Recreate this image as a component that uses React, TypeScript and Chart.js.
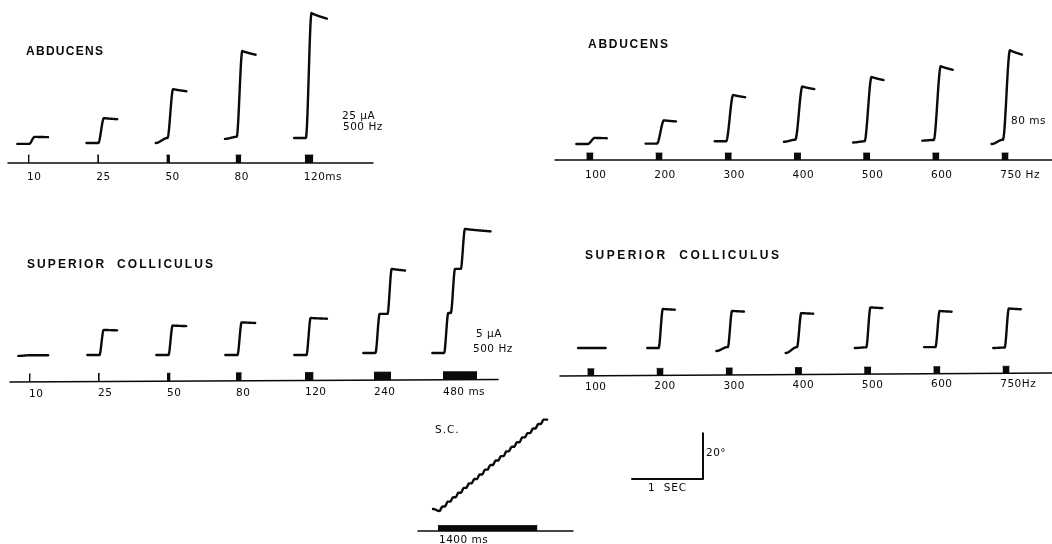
import { useEffect, useRef } from "react";
import { Chart, registerables } from "chart.js";

Chart.register(...registerables);

// ---------------- figure geometry (layout only) ----------------
const FIG_W = 1052;
const FIG_H = 544;
const PX_PER_DEG = 2.285; // from the 20° calibration bar
const PX_PER_MS = 0.071; // from the 1 SEC calibration bar

// ---------------- data ----------------
// Panel A: Abducens, train duration series (25 µA, 500 Hz)
const abdDurLabels = ["10", "25", "50", "80", "120ms"];
const abdDurTrainMs = [10, 25, 50, 80, 120];
const abdDurAmpDeg = [3.1, 10.9, 21.4, 37.6, 54.7];
const abdDurStartDeg = [-0.4, 0, 0, 1.8, 2.2];
const abdDurDriftDeg = [0, 0, 2.2, 0.9, 0];

// Panel B: Abducens, frequency series (80 ms trains)
const abdFreqLabels = ["100", "200", "300", "400", "500", "600", "750 Hz"];
const abdFreqTrainMs = [80, 80, 80, 80, 80, 80, 80];
const abdFreqAmpDeg = [2.7, 10.2, 20.3, 23.3, 28.2, 32.3, 39.2];
const abdFreqStartDeg = [-0.9, -0.7, 0.3, 0.1, -0.2, 0.6, -0.9];
const abdFreqDriftDeg = [0, 0, 0, 0.9, 0.5, 0.3, 1.9];

// Panel C: Superior colliculus, train duration series (5 µA, 500 Hz)
const scDurLabels = ["10", "25", "50", "80", "120", "240", "480 ms"];
const scDurTrainMs = [10, 25, 50, 80, 120, 240, 480];
const scDurStepDeg = [[0], [11], [12.9], [14.3], [16.2], [17.1, 19.7], [17.5, 19.3, 17.5]];
const scDurStepMs = [[20], [20], [20], [20], [20], [20, 190], [15, 110, 250]];
const scDurStartDeg = [-0.4, 0, 0, 0, 0, 0.9, 0.9];
const scDurDriftDeg = [0.3, 0, 0, 0, 0, 0, 0];

// Panel D: Superior colliculus, frequency series (80 ms trains)
const scFreqLabels = ["100", "200", "300", "400", "500", "600", "750Hz"];
const scFreqTrainMs = [80, 80, 80, 80, 80, 80, 80];
const scFreqAmpDeg = [0, 17.1, 15.8, 14.9, 17.5, 15.8, 17.1];
const scFreqStartDeg = [0, 0, -1.3, -2.2, 0, 0.4, 0];
const scFreqDriftDeg = [0, 0, 1.75, 2.6, 0.3, 0, 0.2];

// Panel E: S.C., long 1400 ms train -> staircase
const scLongTrainMs = 1400;
const scLongStepDeg = [2.0, 2.1, 1.9, 2.0, 2.1, 2.0, 1.9, 2.0, 2.1, 2.0, 2.0, 1.9, 2.1, 2.0, 2.0, 2.1, 1.9, 2.0, 2.0, 1.9];
const scLongStepMs = [20, 95, 170, 245, 320, 395, 470, 545, 620, 695, 770, 845, 920, 995, 1070, 1145, 1220, 1295, 1370, 1445];

// Calibration
const calSec = 1;
const calDeg = 20;

// ---------------- layout ----------------
type Panel = {
  firstOnset: number;
  spacing: number;
  axisX0: number;
  axisX1: number;
  axisY0: number;
  axisY1: number;
  baseY: number;
  stimH: number;
  stimPad: number;
  labelY: number;
  labelDx: number;
  riseMs: number;
  preMs: number;
  postMs: number;
  sag: number;
};

const panelA: Panel = { firstOnset: 28, spacing: 69.2, axisX0: 8, axisX1: 373, axisY0: 163, axisY1: 163, baseY: 143, stimH: 8, stimPad: 0, labelY: 177, labelDx: -1, riseMs: 80, preMs: 150, postMs: 190, sag: 0.045 };
const panelB: Panel = { firstOnset: 587, spacing: 69.2, axisX0: 555, axisX1: 1052, axisY0: 160, axisY1: 160, baseY: 142, stimH: 7, stimPad: 1.3, labelY: 175, labelDx: -2, riseMs: 100, preMs: 150, postMs: 170, sag: 0.05 };
const panelC: Panel = { firstOnset: 29, spacing: 69, axisX0: 10, axisX1: 498, axisY0: 382, axisY1: 379.5, baseY: 355, stimH: 8, stimPad: 0, labelY: 394, labelDx: 0, riseMs: 60, preMs: 150, postMs: 190, sag: 0.02 };
const panelD: Panel = { firstOnset: 588, spacing: 69.2, axisX0: 560, axisX1: 1052, axisY0: 376, axisY1: 373, baseY: 348, stimH: 7, stimPad: 1.3, labelY: 387, labelDx: -3, riseMs: 60, preMs: 140, postMs: 170, sag: 0.02 };
const panelE: Panel = { firstOnset: 438, spacing: 0, axisX0: 418, axisX1: 573, axisY0: 531, axisY1: 531, baseY: 511, stimH: 5.5, stimPad: 0, labelY: 540, labelDx: 1, riseMs: 45, preMs: 70, postMs: 50, sag: 0 };

const INK = "#0a0a0a";

function axisYAt(p: Panel, x: number) {
  return p.axisY0 + ((p.axisY1 - p.axisY0) * (x - p.axisX0)) / (p.axisX1 - p.axisX0);
}

function smooth(u: number) {
  if (u <= 0) return 0;
  if (u >= 1) return 1;
  return u * u * (3 - 2 * u);
}

function buildTrace(p: Panel, onsetX: number, trainMs: number, stepsDeg: number[], stepsMs: number[], startDeg: number, driftDeg: number) {
  const pts: { x: number; y: number }[] = [];
  const t0 = -p.preMs;
  const firstStep = stepsMs[0];
  const lastRiseEnd = stepsMs[stepsMs.length - 1] + p.riseMs;
  const tEnd = Math.max(trainMs, lastRiseEnd) + p.postMs;
  const total = stepsDeg.reduce((a, b) => a + b, 0);
  for (let t = t0; t <= tEnd + 0.001; t += 4) {
    let deg = startDeg + driftDeg * smooth((t - t0) / (firstStep - t0));
    for (let k = 0; k < stepsDeg.length; k++) deg += stepsDeg[k] * smooth((t - stepsMs[k]) / p.riseMs);
    if (t > lastRiseEnd) deg -= p.sag * total * Math.pow((t - lastRiseEnd) / (tEnd - lastRiseEnd), 0.8);
    pts.push({ x: onsetX + t * PX_PER_MS, y: p.baseY - deg * PX_PER_DEG });
  }
  return pts;
}

const lineDs = (data: { x: number; y: number }[], width: number, tension = 0) => ({
  type: "line" as const,
  data,
  borderColor: INK,
  borderWidth: width,
  pointRadius: 0,
  tension,
  fill: false,
  borderCapStyle: "round" as const,
  borderJoinStyle: "round" as const,
  clip: false as const,
});

function stimDs(p: Panel, onsetX: number, trainMs: number) {
  const w = Math.max(trainMs * PX_PER_MS, 1.6) + p.stimPad;
  const x0 = onsetX - p.stimPad / 2;
  const base = axisYAt(p, x0 + w / 2);
  return {
    type: "line" as const,
    data: [
      { x: x0, y: base - p.stimH },
      { x: x0 + w, y: base - p.stimH },
    ],
    borderColor: INK,
    borderWidth: 0.8,
    backgroundColor: INK,
    pointRadius: 0,
    tension: 0,
    fill: { value: base },
    clip: false as const,
  };
}

function axisDs(p: Panel) {
  return lineDs(
    [
      { x: p.axisX0, y: p.axisY0 },
      { x: p.axisX1, y: p.axisY1 },
    ],
    1.5
  );
}

type TextItem = { text: string; x: number; y: number; font: string; width?: number; ls?: number; align?: CanvasTextAlign; baseline?: CanvasTextBaseline };

const NUM_FONT = '10.5px "DejaVu Sans"';
const TITLE_FONT = 'bold 12px "Liberation Sans"';
const NUM_LS = 0.5;

function buildAll() {
  const datasets: any[] = [];
  const texts: TextItem[] = [];

  const addPanel = (
    p: Panel,
    labels: string[],
    trains: number[],
    steps: number[][],
    stepMs: number[][],
    starts: number[],
    drifts: number[]
  ) => {
    datasets.push(axisDs(p));
    labels.forEach((lab, i) => {
      const onsetX = p.firstOnset + i * p.spacing;
      datasets.push(stimDs(p, onsetX, trains[i]));
      datasets.push(lineDs(buildTrace(p, onsetX, trains[i], steps[i], stepMs[i], starts[i], drifts[i]), 2.4, 0.02));
      const lx = onsetX + p.labelDx;
      texts.push({ text: lab, x: lx, y: p.labelY + (axisYAt(p, lx) - p.axisY0), font: NUM_FONT, ls: NUM_LS });
    });
  };

  addPanel(panelA, abdDurLabels, abdDurTrainMs, abdDurAmpDeg.map((a) => [a]), abdDurAmpDeg.map(() => [15]), abdDurStartDeg, abdDurDriftDeg);
  addPanel(panelB, abdFreqLabels, abdFreqTrainMs, abdFreqAmpDeg.map((a) => [a]), abdFreqAmpDeg.map(() => [10]), abdFreqStartDeg, abdFreqDriftDeg);
  addPanel(panelC, scDurLabels, scDurTrainMs, scDurStepDeg, scDurStepMs, scDurStartDeg, scDurDriftDeg);
  addPanel(panelD, scFreqLabels, scFreqTrainMs, scFreqAmpDeg.map((a) => [a]), scFreqAmpDeg.map(() => [20]), scFreqStartDeg, scFreqDriftDeg);

  // Panel E: long train
  datasets.push(axisDs(panelE));
  datasets.push(stimDs(panelE, panelE.firstOnset, scLongTrainMs));
  datasets.push(lineDs(buildTrace(panelE, panelE.firstOnset, scLongTrainMs, scLongStepDeg, scLongStepMs, 0.9, -0.9), 2.4, 0.02));
  texts.push({ text: "1400 ms", x: panelE.firstOnset + panelE.labelDx, y: 535, font: NUM_FONT, ls: NUM_LS, baseline: "top" });

  // calibration bar
  const cx = 703;
  const cy = 479;
  datasets.push(
    lineDs(
      [
        { x: cx - calSec * 1000 * PX_PER_MS, y: cy },
        { x: cx, y: cy },
        { x: cx, y: cy - calDeg * PX_PER_DEG },
      ],
      2
    )
  );

  // titles & annotations
  texts.push({ text: "ABDUCENS", x: 26, y: 52, font: TITLE_FONT, width: 77 });
  texts.push({ text: "ABDUCENS", x: 588, y: 45, font: TITLE_FONT, width: 80 });
  texts.push({ text: "SUPERIOR  COLLICULUS", x: 27, y: 265, font: TITLE_FONT, width: 186 });
  texts.push({ text: "SUPERIOR  COLLICULUS", x: 585, y: 256, font: TITLE_FONT, width: 194 });
  texts.push({ text: "25 µA", x: 342, y: 116, font: NUM_FONT, ls: NUM_LS });
  texts.push({ text: "500 Hz", x: 343, y: 127, font: NUM_FONT, ls: NUM_LS });
  texts.push({ text: "80 ms", x: 1011, y: 121, font: NUM_FONT, ls: NUM_LS });
  texts.push({ text: "5 µA", x: 476, y: 334, font: NUM_FONT, ls: NUM_LS });
  texts.push({ text: "500 Hz", x: 473, y: 349, font: NUM_FONT, ls: NUM_LS });
  texts.push({ text: "S.C.", x: 435, y: 430, font: NUM_FONT, ls: 1 });
  texts.push({ text: "20°", x: 706, y: 453, font: NUM_FONT, ls: NUM_LS });
  texts.push({ text: "1  SEC", x: 648, y: 488, font: NUM_FONT, ls: 0.8 });

  return { datasets, texts };
}

export default function App() {
  const ref = useRef<HTMLCanvasElement>(null);
  useEffect(() => {
    const { datasets, texts } = buildAll();
    const textPlugin = {
      id: "figureText",
      afterDatasetsDraw(chart: any) {
        const ctx: CanvasRenderingContext2D = chart.ctx;
        const xs = chart.scales.x;
        const ys = chart.scales.y;
        ctx.save();
        ctx.fillStyle = INK;
        texts.forEach((t) => {
          ctx.font = t.font;
          ctx.textAlign = t.align || "left";
          ctx.textBaseline = t.baseline || "middle";
          let ls = t.ls || 0;
          if (t.width) {
            (ctx as any).letterSpacing = "0px";
            const w = ctx.measureText(t.text).width;
            ls = (t.width - w) / Math.max(1, t.text.length - 1);
          }
          (ctx as any).letterSpacing = `${ls}px`;
          ctx.fillText(t.text, xs.getPixelForValue(t.x), ys.getPixelForValue(t.y));
        });
        (ctx as any).letterSpacing = "0px";
        ctx.restore();
      },
    };
    const chart = new Chart(ref.current as HTMLCanvasElement, {
      type: "line",
      data: { datasets },
      options: {
        animation: false,
        responsive: false,
        events: [],
        layout: { padding: 0 },
        plugins: { legend: { display: false }, tooltip: { enabled: false }, title: { display: false } },
        scales: {
          x: { type: "linear", min: 0, max: FIG_W, display: false },
          y: { type: "linear", min: 0, max: FIG_H, reverse: true, display: false },
        },
      },
      plugins: [textPlugin],
    } as any);
    return () => chart.destroy();
  }, []);
  return (
    <div style={{ position: "absolute", left: 0, top: 0, width: FIG_W, height: FIG_H, background: "#fff" }}>
      <canvas ref={ref} width={FIG_W} height={FIG_H} style={{ display: "block", width: FIG_W, height: FIG_H }} />
    </div>
  );
}
